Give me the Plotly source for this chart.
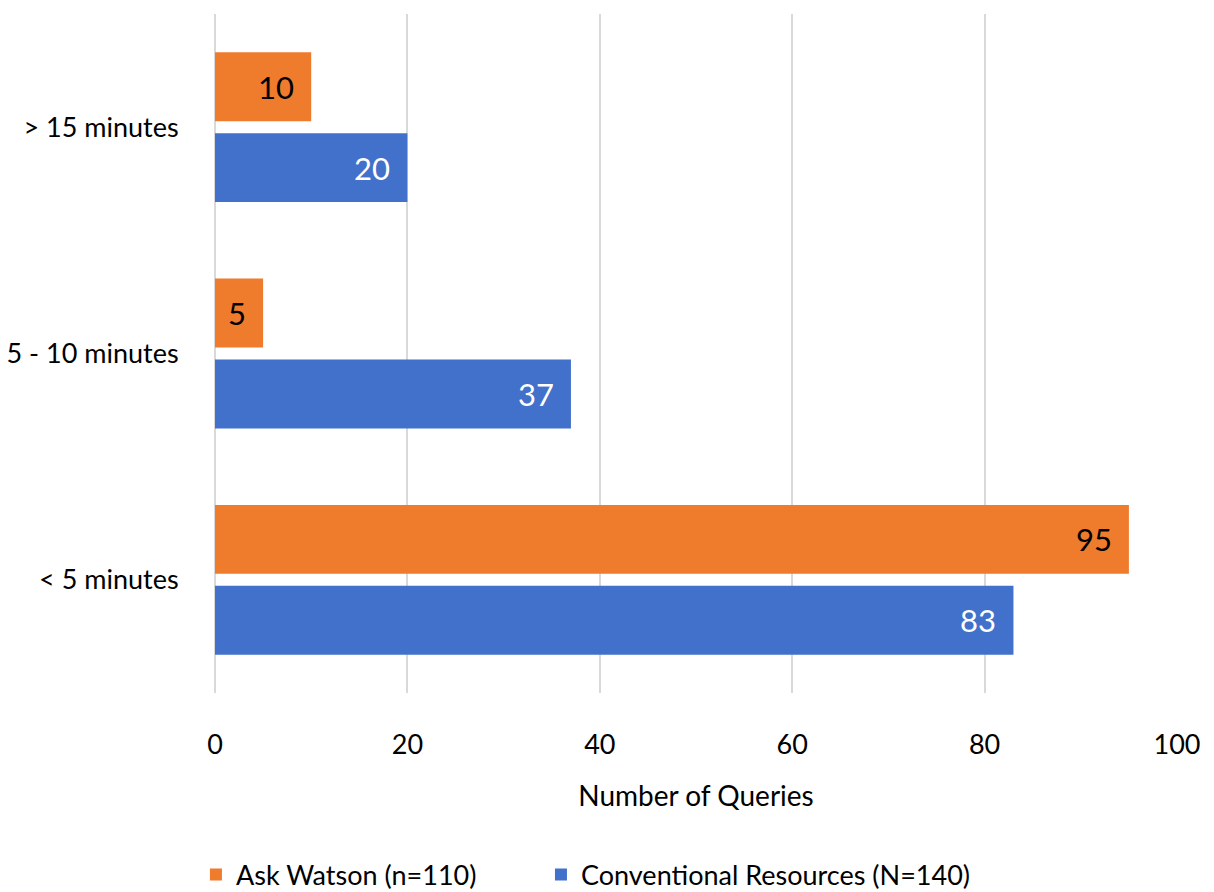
import plotly.graph_objects as go

# Time taken to answer a query, by resource used
categories = ["< 5 minutes", "5 - 10 minutes", "> 15 minutes"]
ask_watson = [95, 5, 10]
conventional = [83, 37, 20]

x_ticks = [0, 20, 40, 60, 80, 100]

FONT = "Lato, 'Open Sans', sans-serif"
ORANGE = "#EF7B2D"
BLUE = "#4171CB"

fig = go.Figure()

# Plotly stacks horizontal groups bottom-up, so the lower bar (blue) goes first
fig.add_trace(go.Bar(
    name="Conventional Resources (N=140)",
    y=categories, x=conventional, orientation="h",
    marker=dict(color=BLUE, line=dict(width=0)),
    hoverinfo="x+name", legend="legend2",
))
fig.add_trace(go.Bar(
    name="Ask Watson (n=110)",
    y=categories, x=ask_watson, orientation="h",
    marker=dict(color=ORANGE, line=dict(width=0)),
    hoverinfo="x+name", legend="legend",
))

# Value labels placed just inside the end of each bar
annotations = []
for cat, v in zip(categories, ask_watson):
    annotations.append(dict(
        x=v, y=cat, xref="x", yref="y", text=str(v), showarrow=False,
        xanchor="right", yanchor="middle", xshift=-15, yshift=40.5,
        font=dict(family=FONT, size=31, color="#000000"),
    ))
for cat, v in zip(categories, conventional):
    annotations.append(dict(
        x=v, y=cat, xref="x", yref="y", text=str(v), showarrow=False,
        xanchor="right", yanchor="middle", xshift=-15, yshift=-40.5,
        font=dict(family=FONT, size=31, color="#FFFFFF"),
    ))

legend_common = dict(
    orientation="h", xref="container", yref="container",
    xanchor="left", y=0.019, yanchor="middle",
    font=dict(family=FONT, size=27, color="#000000"),
    itemwidth=30, bgcolor="rgba(0,0,0,0)",
)

fig.update_layout(
    width=1214, height=892,
    margin=dict(l=215, r=37, t=14, b=199),
    paper_bgcolor="white", plot_bgcolor="white",
    barmode="group", bargap=0.285, bargroupgap=0.148,
    font=dict(family=FONT, size=27, color="#000000"),
    annotations=annotations,
    showlegend=True,
    legend=dict(x=0.1614, **legend_common),
    legend2=dict(x=0.4456, **legend_common),
    xaxis=dict(
        range=[0, 100], tickvals=x_ticks, ticktext=[str(t) for t in x_ticks],
        showgrid=True, gridcolor="#D9D9D9", gridwidth=1.5,
        zeroline=True, zerolinecolor="#D9D9D9", zerolinewidth=1.5,
        showline=False, automargin=False,
        ticks="outside", ticklen=28, tickcolor="rgba(0,0,0,0)",
        tickfont=dict(family=FONT, size=27),
        title=dict(text="Number of Queries", standoff=26,
                   font=dict(family=FONT, size=28)),
        fixedrange=True,
    ),
    yaxis=dict(
        categoryorder="array", categoryarray=categories,
        range=[-0.5, 2.5], automargin=False,
        showgrid=False, showline=False, zeroline=False,
        ticks="outside", ticklen=30, tickcolor="rgba(0,0,0,0)",
        tickfont=dict(family=FONT, size=27),
        fixedrange=True,
    ),
)

fig.write_html("out.html")
